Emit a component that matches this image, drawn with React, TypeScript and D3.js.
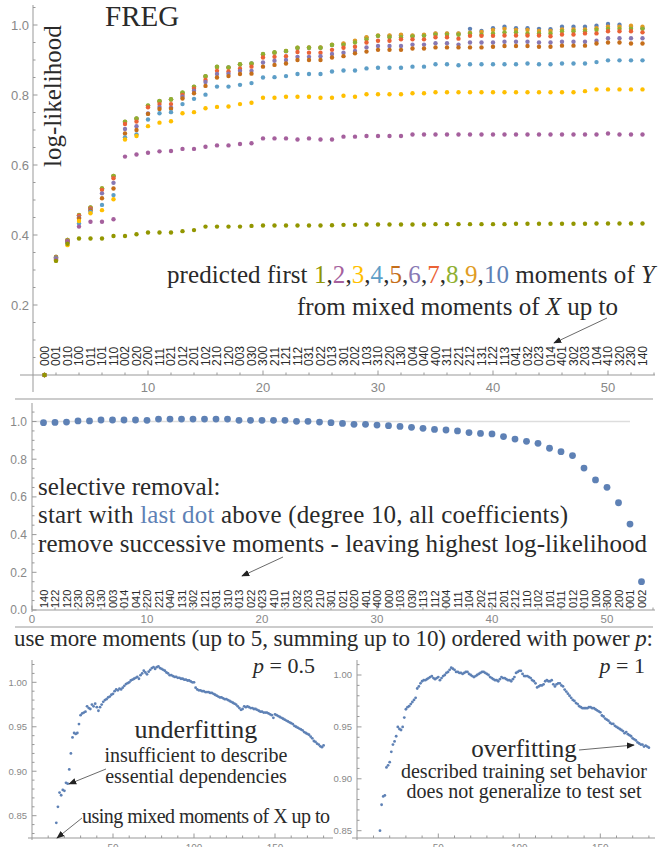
import React from 'react';
import * as d3 from 'd3';

// moment codes along the x axis of the first plot (order in which moments of X were added)
const TOP_CODES = ['000','001','010','100','011','101','110','002','020','200','111','021','012','201','102','210','120','003','030','300','211','121','112','031','022','013','301','202','103','310','220','130','004','040','400','311','221','212','131','122','113','041','032','023','014','401','302','203','104','410','320','230','140'];

// moment codes of the selective removal plot
const MID_CODES = ['140','122','120','230','320','130','003','014','041','220','221','040','131','302','121','031','310','013','022','023','410','311','032','203','210','301','021','020','401','400','000','103','030','113','112','004','111','104','202','211','201','212','110','102','101','011','012','010','100','300','200','001','002'];

// colours for predicting the first k moments of Y (k = 1..10)
const MOMENT_COLORS = ['#929600','#A5609D','#FFBF00','#5D9EC7','#C56E1A','#8778B3','#EB6235','#8FB032','#E19C24','#5E81B5'];

const MOM1 = [0,0.326,0.375,0.390,0.390,0.390,0.397,0.397,0.402,0.407,0.407,0.407,0.411,0.414,0.424,0.424,0.424,0.424,0.426,0.427,0.427,0.427,0.427,0.427,0.427,0.428,0.429,0.429,0.430,0.430,0.430,0.430,0.430,0.430,0.431,0.431,0.431,0.431,0.431,0.431,0.431,0.432,0.432,0.432,0.432,0.432,0.432,0.432,0.433,0.433,0.433,0.433,0.433];
const MOM2 = [0,0.330,0.380,0.424,0.438,0.438,0.445,0.624,0.630,0.635,0.639,0.640,0.646,0.646,0.652,0.656,0.656,0.660,0.662,0.676,0.676,0.676,0.673,0.676,0.673,0.673,0.681,0.681,0.683,0.683,0.683,0.683,0.687,0.687,0.687,0.687,0.687,0.687,0.687,0.687,0.687,0.687,0.687,0.687,0.687,0.687,0.687,0.687,0.687,0.690,0.687,0.687,0.687];
const MOM3 = [0,0.328,0.371,0.440,0.462,0.471,0.502,0.673,0.683,0.711,0.721,0.725,0.748,0.751,0.762,0.766,0.767,0.774,0.778,0.792,0.792,0.795,0.795,0.795,0.792,0.792,0.798,0.795,0.802,0.802,0.802,0.802,0.805,0.805,0.808,0.808,0.808,0.808,0.808,0.808,0.808,0.808,0.808,0.808,0.808,0.808,0.808,0.811,0.816,0.816,0.816,0.816,0.816];
const MOM4 = [0,0.333,0.378,0.433,0.466,0.486,0.514,0.679,0.687,0.730,0.748,0.751,0.774,0.789,0.801,0.824,0.824,0.829,0.834,0.850,0.851,0.854,0.860,0.860,0.860,0.867,0.870,0.870,0.876,0.878,0.878,0.878,0.881,0.881,0.888,0.888,0.885,0.888,0.888,0.888,0.888,0.888,0.890,0.888,0.888,0.890,0.890,0.890,0.894,0.899,0.899,0.899,0.899];
const MOM5 = [0,0.334,0.380,0.447,0.470,0.505,0.533,0.690,0.700,0.746,0.760,0.761,0.790,0.805,0.826,0.850,0.854,0.860,0.861,0.881,0.886,0.890,0.900,0.900,0.900,0.907,0.911,0.919,0.924,0.929,0.929,0.929,0.933,0.933,0.936,0.936,0.936,0.936,0.936,0.938,0.940,0.940,0.940,0.938,0.938,0.941,0.941,0.941,0.947,0.950,0.950,0.947,0.947];
const MOM6 = [0,0.335,0.382,0.450,0.472,0.519,0.549,0.703,0.711,0.747,0.766,0.764,0.795,0.812,0.837,0.860,0.861,0.869,0.869,0.893,0.898,0.900,0.909,0.909,0.911,0.917,0.921,0.926,0.936,0.940,0.940,0.940,0.944,0.944,0.948,0.948,0.944,0.950,0.950,0.950,0.952,0.952,0.952,0.950,0.950,0.952,0.952,0.952,0.955,0.962,0.962,0.962,0.962];
const MOM7 = [0,0.336,0.384,0.455,0.476,0.529,0.562,0.717,0.724,0.765,0.774,0.774,0.800,0.818,0.843,0.869,0.867,0.875,0.881,0.907,0.909,0.911,0.923,0.921,0.921,0.929,0.935,0.938,0.950,0.955,0.955,0.959,0.959,0.959,0.965,0.965,0.961,0.969,0.969,0.969,0.970,0.970,0.970,0.970,0.968,0.973,0.973,0.976,0.976,0.982,0.982,0.982,0.979];
const MOM8 = [0,0.337,0.386,0.457,0.479,0.533,0.569,0.724,0.733,0.770,0.783,0.788,0.807,0.824,0.854,0.881,0.879,0.888,0.890,0.917,0.922,0.926,0.935,0.935,0.935,0.943,0.943,0.950,0.959,0.969,0.965,0.965,0.967,0.969,0.972,0.972,0.972,0.976,0.972,0.976,0.979,0.979,0.976,0.976,0.976,0.982,0.982,0.982,0.986,0.989,0.989,0.989,0.989];
const MOM9 = [0,0.337,0.386,0.456,0.478,0.533,0.569,0.723,0.732,0.769,0.782,0.787,0.806,0.823,0.853,0.880,0.878,0.887,0.889,0.916,0.921,0.926,0.935,0.936,0.936,0.944,0.947,0.955,0.965,0.970,0.970,0.972,0.970,0.972,0.976,0.976,0.976,0.978,0.980,0.986,0.989,0.986,0.986,0.983,0.983,0.987,0.987,0.987,0.991,0.995,0.995,0.998,0.995];
const MOM10 = [0,0.337,0.386,0.456,0.478,0.532,0.568,0.723,0.732,0.769,0.782,0.787,0.806,0.823,0.853,0.880,0.879,0.887,0.890,0.916,0.921,0.925,0.934,0.935,0.935,0.943,0.946,0.954,0.964,0.969,0.969,0.971,0.969,0.971,0.975,0.975,0.975,0.989,0.983,0.991,0.995,0.991,0.991,0.989,0.988,0.995,0.995,0.995,0.998,1.003,1.001,0.995,0.991];
const MOMENT_SERIES = [MOM1, MOM2, MOM3, MOM4, MOM5, MOM6, MOM7, MOM8, MOM9, MOM10];

// selective removal: log-likelihood after removing successive moments
const MID_VALUES = [0.994,0.995,0.997,1.003,1.003,1.008,1.008,1.008,1.008,1.006,1.013,1.013,1.013,1.013,1.013,1.013,1.013,1.006,1.006,1.006,1.006,1.006,1.001,1.001,0.997,0.994,0.990,0.985,0.985,0.981,0.978,0.974,0.969,0.964,0.958,0.955,0.950,0.941,0.937,0.934,0.920,0.907,0.895,0.884,0.858,0.840,0.819,0.753,0.690,0.651,0.569,0.456,0.150];

// more moments, power p = 0.5 (first value at 15 moments)
const P05_START = 15;
const P05_VALUES = [0.842,0.860,0.876,0.873,0.879,0.878,0.887,0.886,0.902,0.920,0.938,0.943,0.942,0.943,0.953,0.963,0.965,0.966,0.967,0.973,0.971,0.970,0.975,0.973,0.976,0.972,0.968,0.972,0.975,0.978,0.980,0.981,0.983,0.984,0.986,0.987,0.990,0.992,0.991,0.993,0.992,0.994,0.996,0.998,0.999,1.000,1.002,1.003,1.004,1.005,1.006,1.004,1.008,1.010,1.013,1.011,1.009,1.012,1.014,1.016,1.017,1.015,1.017,1.018,1.016,1.015,1.014,1.013,1.011,1.010,1.008,1.008,1.007,1.006,1.006,1.005,1.005,1.004,1.004,1.003,1.003,1.002,1.002,1.001,1.000,1.000,0.994,0.992,0.991,0.991,0.990,0.990,0.989,0.989,0.989,0.988,0.988,0.987,0.986,0.985,0.984,0.983,0.983,0.982,0.981,0.981,0.980,0.979,0.978,0.977,0.976,0.975,0.973,0.971,0.969,0.970,0.973,0.972,0.973,0.972,0.971,0.971,0.970,0.970,0.969,0.968,0.967,0.967,0.966,0.966,0.966,0.965,0.964,0.963,0.960,0.964,0.963,0.962,0.961,0.960,0.959,0.958,0.957,0.956,0.955,0.954,0.953,0.951,0.950,0.949,0.948,0.947,0.946,0.944,0.943,0.942,0.941,0.939,0.937,0.934,0.933,0.931,0.930,0.928,0.927,0.929];

// more moments, power p = 1 (first value at 14 moments)
const P1_START = 14;
const P1_VALUES = [0.850,0.875,0.883,0.884,0.911,0.913,0.916,0.926,0.933,0.936,0.941,0.950,0.948,0.947,0.950,0.959,0.967,0.969,0.970,0.972,0.974,0.976,0.978,0.987,0.989,0.992,0.994,0.995,0.995,0.996,0.997,0.998,0.999,0.997,0.996,0.997,0.998,0.995,0.997,0.999,1.000,1.002,1.003,1.005,1.007,1.006,1.005,1.003,1.003,1.002,1.002,1.001,1.002,1.003,1.003,1.001,1.000,0.999,0.998,0.999,1.000,1.001,1.002,1.003,1.003,1.002,1.001,1.000,0.998,0.997,0.996,0.995,0.995,0.994,0.996,0.998,0.997,0.997,0.996,0.995,0.995,0.994,0.996,0.998,1.002,1.003,1.004,1.004,1.001,0.999,0.999,0.999,0.998,0.997,0.995,0.994,0.992,0.988,0.989,0.990,0.990,0.991,0.994,0.995,0.994,0.994,0.995,0.991,0.989,0.991,0.992,0.992,0.990,0.989,0.986,0.984,0.982,0.980,0.978,0.976,0.975,0.973,0.972,0.970,0.969,0.968,0.968,0.968,0.968,0.969,0.969,0.968,0.968,0.967,0.966,0.965,0.964,0.961,0.960,0.958,0.957,0.956,0.954,0.953,0.953,0.951,0.950,0.949,0.948,0.947,0.946,0.944,0.945,0.943,0.942,0.941,0.939,0.938,0.937,0.935,0.934,0.933,0.933,0.931,0.932,0.931,0.930];

const TICK_FONT = "'Liberation Sans', Arial, sans-serif";
const TEXT_FONT = "'Liberation Serif', 'Times New Roman', serif";
const TICK_COLOR = '#888';
const AXIS_COLOR = '#999';
const INK = '#2a2a2a';

type Lin = d3.ScaleLinear<number, number>;

const YAxis = ({ y, x0, top, bottom, major, minor, fmt, fs, labelX }:
  { y: Lin, x0: number, top: number, bottom: number, major: number[], minor: number[], fmt: (v: number) => string, fs: number, labelX: number }) => (
  <g>
    <line x1={x0} x2={x0} y1={top} y2={bottom} stroke={AXIS_COLOR} strokeWidth={1} />
    {minor.map((v, i) => <line key={'m' + i} x1={x0} x2={x0 + 2.5} y1={y(v)} y2={y(v)} stroke={AXIS_COLOR} />)}
    {major.map((v, i) => (
      <g key={'M' + i}>
        <line x1={x0} x2={x0 + 4.5} y1={y(v)} y2={y(v)} stroke={AXIS_COLOR} />
        <text x={labelX} y={y(v) + fs * 0.36} textAnchor="end" fontSize={fs} fill={TICK_COLOR} fontFamily={TICK_FONT}>{fmt(v)}</text>
      </g>
    ))}
  </g>
);

const XAxis = ({ x, y0, left, right, major, minor, fs, labelY }:
  { x: Lin, y0: number, left: number, right: number, major: number[], minor: number[], fs: number, labelY: number }) => (
  <g>
    <line x1={left} x2={right} y1={y0} y2={y0} stroke={AXIS_COLOR} strokeWidth={1} />
    {minor.map((v, i) => <line key={'m' + i} x1={x(v)} x2={x(v)} y1={y0} y2={y0 - 2.5} stroke={AXIS_COLOR} />)}
    {major.map((v, i) => (
      <g key={'M' + i}>
        <line x1={x(v)} x2={x(v)} y1={y0} y2={y0 - 4.5} stroke={AXIS_COLOR} />
        <text x={x(v)} y={labelY} textAnchor="middle" fontSize={fs} fill={TICK_COLOR} fontFamily={TICK_FONT}>{v}</text>
      </g>
    ))}
  </g>
);

const Arrow = ({ x1, y1, x2, y2 }: { x1: number, y1: number, x2: number, y2: number }) => (
  <line x1={x1} y1={y1} x2={x2} y2={y2} stroke="#444" strokeWidth={0.8} markerEnd="url(#ah)" />
);

export default function App() {
  // first plot: increasing set of mixed moments of X
  const topX = d3.scaleLinear().domain([0, 54]).range([33, 654]);
  const topY = d3.scaleLinear().domain([0, 1]).range([375, 25]);
  // second plot: selective removal
  const midX = d3.scaleLinear().domain([0, 54]).range([32, 653]);
  const midY = d3.scaleLinear().domain([0, 1]).range([610, 421.5]);
  // bottom plots
  const blX = d3.scaleLinear().domain([0, 50]).range([32, 113]);
  const blY = d3.scaleLinear().domain([0.85, 1]).range([815.7, 682.3]);
  const brX = d3.scaleLinear().domain([0, 50]).range([357.3, 438.3]);
  const brY = d3.scaleLinear().domain([0.85, 1]).range([830.7, 675]);

  const f1 = d3.format('.1f');
  const f2 = d3.format('.2f');
  const isMajor = (v: number, step: number) => Math.abs(v / step - Math.round(v / step)) < 1e-6;

  const topYMinor = d3.range(0.05, 1.051, 0.05).filter(v => !isMajor(v, 0.2));
  const midYMinor = d3.range(0.05, 1.051, 0.05).filter(v => !isMajor(v, 0.2));
  const xMinor = d3.range(2, 55, 2).filter(v => v % 10 !== 0);
  const bYMinorL = d3.range(0.83, 1.021, 0.01).filter(v => !isMajor(v, 0.05));
  const bYMinorR = d3.range(0.85, 1.011, 0.01).filter(v => !isMajor(v, 0.05));
  const bXMinor = d3.range(10, 181, 10).filter(v => v % 50 !== 0);

  const order = d3.range(9, -1, -1); // draw 10 moments first, 1 moment last

  return (
    <svg width={670} height={847} style={{ position: 'absolute', left: 0, top: 0, background: '#fff' }}>
      <defs>
        <marker id="ah" viewBox="0 0 10 10" refX="9" refY="5" markerWidth="8" markerHeight="8" markerUnits="userSpaceOnUse" orient="auto">
          <path d="M0,1 L10,5 L0,9 z" fill="#222" />
        </marker>
      </defs>
      <rect x={0} y={0} width={670} height={847} fill="#fff" />

      {/* ---------- top plot ---------- */}
      <YAxis y={topY} x0={33} top={5} bottom={392} major={[0.2, 0.4, 0.6, 0.8, 1.0]} minor={topYMinor} fmt={f1} fs={13} labelX={29} />
      <XAxis x={topX} y0={375} left={20} right={655} major={[10, 20, 30, 40, 50]} minor={xMinor} fs={13} labelY={392} />
      {TOP_CODES.map((c, i) => (
        <text key={c} transform={`translate(${topX(i + 1)},366) rotate(-90)`} dominantBaseline="central" fontSize={12} fill={INK} fontFamily={TICK_FONT}>{c}</text>
      ))}
      {order.map(k => (
        <g key={k} fill={MOMENT_COLORS[k]}>
          {MOMENT_SERIES[k].map((v, i) => <circle key={i} cx={topX(i + 1)} cy={topY(v)} r={2.2} />)}
        </g>
      ))}
      <text x={105} y={26} fontSize={29} fill={INK} fontFamily={TEXT_FONT}>FREG</text>
      <text transform="translate(61,167) rotate(-90)" fontSize={25} fill={INK} fontFamily={TEXT_FONT}>log-likelihood</text>
      <text x={167} y={283} fontSize={25} fill={INK} fontFamily={TEXT_FONT} textLength={488}>
        predicted first{' '}
        {MOMENT_COLORS.map((c, i) => (
          <React.Fragment key={i}>
            <tspan fill={c}>{i + 1}</tspan>{i < 9 ? ',' : ''}
          </React.Fragment>
        ))}
        {' '}moments of <tspan fontStyle="italic">Y</tspan>
      </text>
      <text x={297} y={315} fontSize={25} fill={INK} fontFamily={TEXT_FONT} textLength={321}>
        from mixed moments of <tspan fontStyle="italic">X</tspan> up to
      </text>
      <Arrow x1={607} y1={318} x2={554} y2={343} />

      <line x1={15} x2={653} y1={399} y2={399} stroke={AXIS_COLOR} />

      {/* ---------- middle plot ---------- */}
      <line x1={midX(0)} x2={midX(52)} y1={midY(1)} y2={midY(1)} stroke="#ddd" strokeWidth={1.5} />
      <YAxis y={midY} x0={32} top={403} bottom={612} major={[0, 0.2, 0.4, 0.6, 0.8, 1.0]} minor={midYMinor} fmt={f1} fs={12} labelX={27} />
      <XAxis x={midX} y0={610} left={32} right={655} major={[0, 10, 20, 30, 40, 50]} minor={xMinor} fs={11.5} labelY={623} />
      {MID_CODES.map((c, i) => (
        <text key={c} transform={`translate(${midX(i + 1)},608) rotate(-90)`} dominantBaseline="central" fontSize={11} fill={INK} fontFamily={TICK_FONT}>{c}</text>
      ))}
      <g fill="#5E81B5">
        {MID_VALUES.map((v, i) => <circle key={i} cx={midX(i + 1)} cy={midY(v)} r={3.4} />)}
      </g>
      <text x={38} y={495} fontSize={25} fill={INK} fontFamily={TEXT_FONT}>selective removal:</text>
      <text x={38} y={523} fontSize={25} fill={INK} fontFamily={TEXT_FONT} textLength={530}>
        start with <tspan fill="#5E81B5">last dot</tspan> above (degree 10, all coefficients)
      </text>
      <text x={38} y={552} fontSize={25} fill={INK} fontFamily={TEXT_FONT} textLength={609}>
        remove successive moments - leaving highest log-likelihood
      </text>
      <Arrow x1={283} y1={557} x2={242} y2={576} />

      <line x1={15} x2={653} y1={627} y2={627} stroke={AXIS_COLOR} />

      {/* ---------- bottom plots ---------- */}
      <text x={14} y={646} fontSize={23} fill={INK} fontFamily={TEXT_FONT} textLength={639}>
        use more moments (up to 5, summing up to 10) ordered with power <tspan fontStyle="italic">p</tspan>:
      </text>

      <YAxis y={blY} x0={32} top={660} bottom={840} major={[0.85, 0.9, 0.95, 1.0]} minor={bYMinorL} fmt={f2} fs={9.5} labelX={27} />
      <XAxis x={blX} y0={838} left={28} right={333} major={[50, 100, 150]} minor={bXMinor} fs={10} labelY={852} />
      <g fill="#5E81B5">
        {P05_VALUES.map((v, i) => <circle key={i} cx={blX(P05_START + i)} cy={blY(v)} r={1.4} />)}
      </g>
      <text x={315} y={673} textAnchor="end" fontSize={22} fill={INK} fontFamily={TEXT_FONT}>
        <tspan fontStyle="italic">p</tspan> = 0.5
      </text>
      <text x={196} y={738} textAnchor="middle" fontSize={26} fill={INK} fontFamily={TEXT_FONT}>underfitting</text>
      <text x={196} y={762} textAnchor="middle" fontSize={20} fill={INK} fontFamily={TEXT_FONT}>insufficient to describe</text>
      <text x={196} y={783} textAnchor="middle" fontSize={20} fill={INK} fontFamily={TEXT_FONT}>essential dependencies</text>
      <Arrow x1={106} y1={769} x2={69} y2={784} />
      <text x={82} y={823} fontSize={20} fill={INK} fontFamily={TEXT_FONT} textLength={248}>using mixed moments of X up to</text>
      <Arrow x1={82} y1={818} x2={57} y2={838} />

      <YAxis y={brY} x0={357} top={660} bottom={840} major={[0.85, 0.9, 0.95, 1.0]} minor={bYMinorR} fmt={f2} fs={9.5} labelX={352} />
      <XAxis x={brX} y0={838} left={352} right={655} major={[50, 100, 150]} minor={bXMinor} fs={10} labelY={852} />
      <g fill="#5E81B5">
        {P1_VALUES.map((v, i) => <circle key={i} cx={brX(P1_START + i)} cy={brY(v)} r={1.4} />)}
      </g>
      <text x={645} y={673} textAnchor="end" fontSize={22} fill={INK} fontFamily={TEXT_FONT}>
        <tspan fontStyle="italic">p</tspan> = 1
      </text>
      <text x={524} y={757} textAnchor="middle" fontSize={25} fill={INK} fontFamily={TEXT_FONT}>overfitting</text>
      <Arrow x1={579} y1={750} x2={634} y2={745} />
      <text x={524} y={778} textAnchor="middle" fontSize={20} fill={INK} fontFamily={TEXT_FONT}>described training set behavior</text>
      <text x={524} y={798} textAnchor="middle" fontSize={20} fill={INK} fontFamily={TEXT_FONT}>does not generalize to test set</text>
    </svg>
  );
}
